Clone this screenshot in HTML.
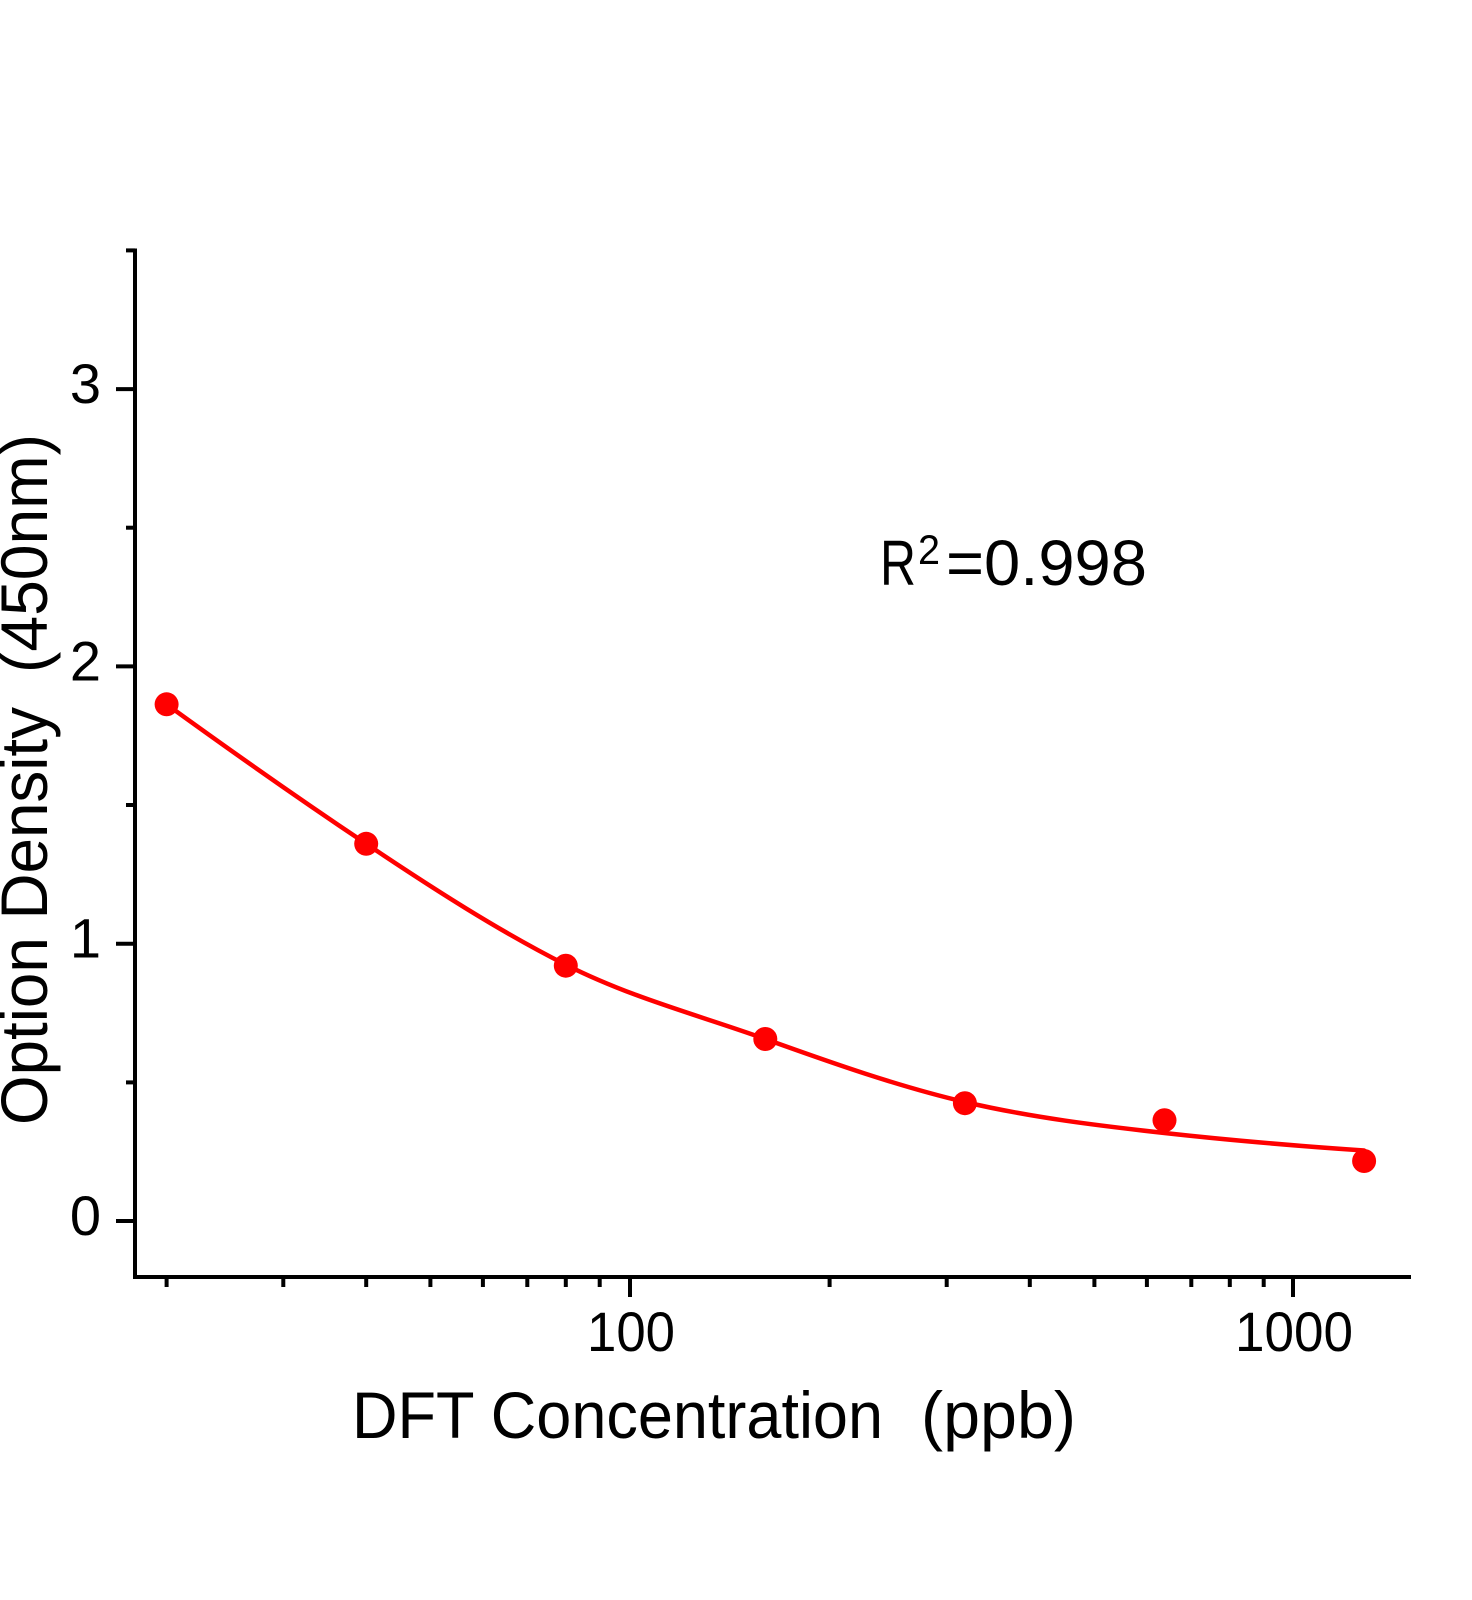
<!DOCTYPE html>
<html>
<head>
<meta charset="utf-8">
<style>
  html, body { margin: 0; padding: 0; background: #ffffff; }
  svg { display: block; }
  text { font-family: "Liberation Sans", "DejaVu Sans", sans-serif; fill: #000; }
</style>
</head>
<body>
<svg width="1472" height="1600" viewBox="0 0 1472 1600" xmlns="http://www.w3.org/2000/svg">
  <rect x="0" y="0" width="1472" height="1600" fill="#ffffff"/>

  <!-- Axes -->
  <g stroke="#000" stroke-width="4" fill="none" stroke-linecap="butt">
    <line x1="135" y1="248.5" x2="135" y2="1279"/>
    <line x1="133" y1="1277" x2="1411" y2="1277"/>

    <!-- Y major ticks -->
    <line x1="116" y1="1221" x2="135" y2="1221"/>
    <line x1="116" y1="943.7" x2="135" y2="943.7"/>
    <line x1="116" y1="666.4" x2="135" y2="666.4"/>
    <line x1="116" y1="389.1" x2="135" y2="389.1"/>
    <!-- Y minor ticks -->
    <line x1="126" y1="1082.4" x2="135" y2="1082.4"/>
    <line x1="126" y1="805" x2="135" y2="805"/>
    <line x1="126" y1="527.7" x2="135" y2="527.7"/>
    <line x1="126" y1="250.4" x2="135" y2="250.4"/>

    <!-- X major ticks -->
    <line x1="630" y1="1277" x2="630" y2="1297"/>
    <line x1="1293" y1="1277" x2="1293" y2="1297"/>
    <!-- X minor ticks -->
    <line x1="166.6" y1="1277" x2="166.6" y2="1287"/>
    <line x1="283.3" y1="1277" x2="283.3" y2="1287"/>
    <line x1="366.2" y1="1277" x2="366.2" y2="1287"/>
    <line x1="430.4" y1="1277" x2="430.4" y2="1287"/>
    <line x1="482.9" y1="1277" x2="482.9" y2="1287"/>
    <line x1="527.3" y1="1277" x2="527.3" y2="1287"/>
    <line x1="565.8" y1="1277" x2="565.8" y2="1287"/>
    <line x1="599.7" y1="1277" x2="599.7" y2="1287"/>
    <line x1="829.6" y1="1277" x2="829.6" y2="1287"/>
    <line x1="946.7" y1="1277" x2="946.7" y2="1287"/>
    <line x1="1029.8" y1="1277" x2="1029.8" y2="1287"/>
    <line x1="1094.4" y1="1277" x2="1094.4" y2="1287"/>
    <line x1="1146.9" y1="1277" x2="1146.9" y2="1287"/>
    <line x1="1191.3" y1="1277" x2="1191.3" y2="1287"/>
    <line x1="1229.8" y1="1277" x2="1229.8" y2="1287"/>
    <line x1="1263.7" y1="1277" x2="1263.7" y2="1287"/>
  </g>

  <!-- Y tick labels -->
  <g font-size="56" text-anchor="end">
    <text x="101" y="1235">0</text>
    <text x="101" y="957.7">1</text>
    <text x="101" y="680.4">2</text>
    <text x="101" y="403">3</text>
  </g>

  <!-- X tick labels -->
  <text x="587" y="1351" font-size="56" textLength="88" lengthAdjust="spacingAndGlyphs">100</text>
  <text x="1235" y="1351" font-size="56" textLength="118" lengthAdjust="spacingAndGlyphs">1000</text>

  <!-- Axis titles -->
  <text x="352" y="1438" font-size="66" textLength="531" lengthAdjust="spacingAndGlyphs">DFT Concentration</text>
  <text x="921" y="1438" font-size="66" textLength="155" lengthAdjust="spacingAndGlyphs">(ppb)</text>

  <text transform="translate(47,1125) rotate(-90)" font-size="66" textLength="418" lengthAdjust="spacingAndGlyphs">Option Density</text>
  <text transform="translate(47,673) rotate(-90)" font-size="66" textLength="239" lengthAdjust="spacingAndGlyphs">(450nm)</text>

  <!-- R^2 annotation -->
  <text x="880" y="585" font-size="64" textLength="36" lengthAdjust="spacingAndGlyphs">R</text>
  <text x="918" y="564" font-size="42" textLength="22" lengthAdjust="spacingAndGlyphs">2</text>
  <text x="946" y="585" font-size="64" textLength="201" lengthAdjust="spacingAndGlyphs">=0.998</text>

  <!-- Fitted curve -->
  <path d="M166.6,704.3
           C233.1,752.5 299.7,799.2 366.2,843.8
           C432.7,888.4 499.3,931.2 565.8,964.7
           C632.3,998.2 698.8,1015.1 765.3,1039
           C831.8,1062.9 898.4,1086.4 964.9,1102
           C1031.4,1117.6 1098.0,1125.6 1164.5,1133
           C1231.0,1140.4 1297.6,1146.0 1364.1,1150.5"
        fill="none" stroke="#ff0000" stroke-width="4.5" stroke-linecap="round" stroke-linejoin="round"/>

  <!-- Data points -->
  <g fill="#ff0000">
    <circle cx="166.6" cy="704.3" r="12"/>
    <circle cx="366.2" cy="843.8" r="12"/>
    <circle cx="565.8" cy="965.7" r="12"/>
    <circle cx="765.3" cy="1039" r="12"/>
    <circle cx="964.9" cy="1103.2" r="12"/>
    <circle cx="1164.5" cy="1120.2" r="12"/>
    <circle cx="1364.1" cy="1161" r="12"/>
  </g>
</svg>
</body>
</html>
